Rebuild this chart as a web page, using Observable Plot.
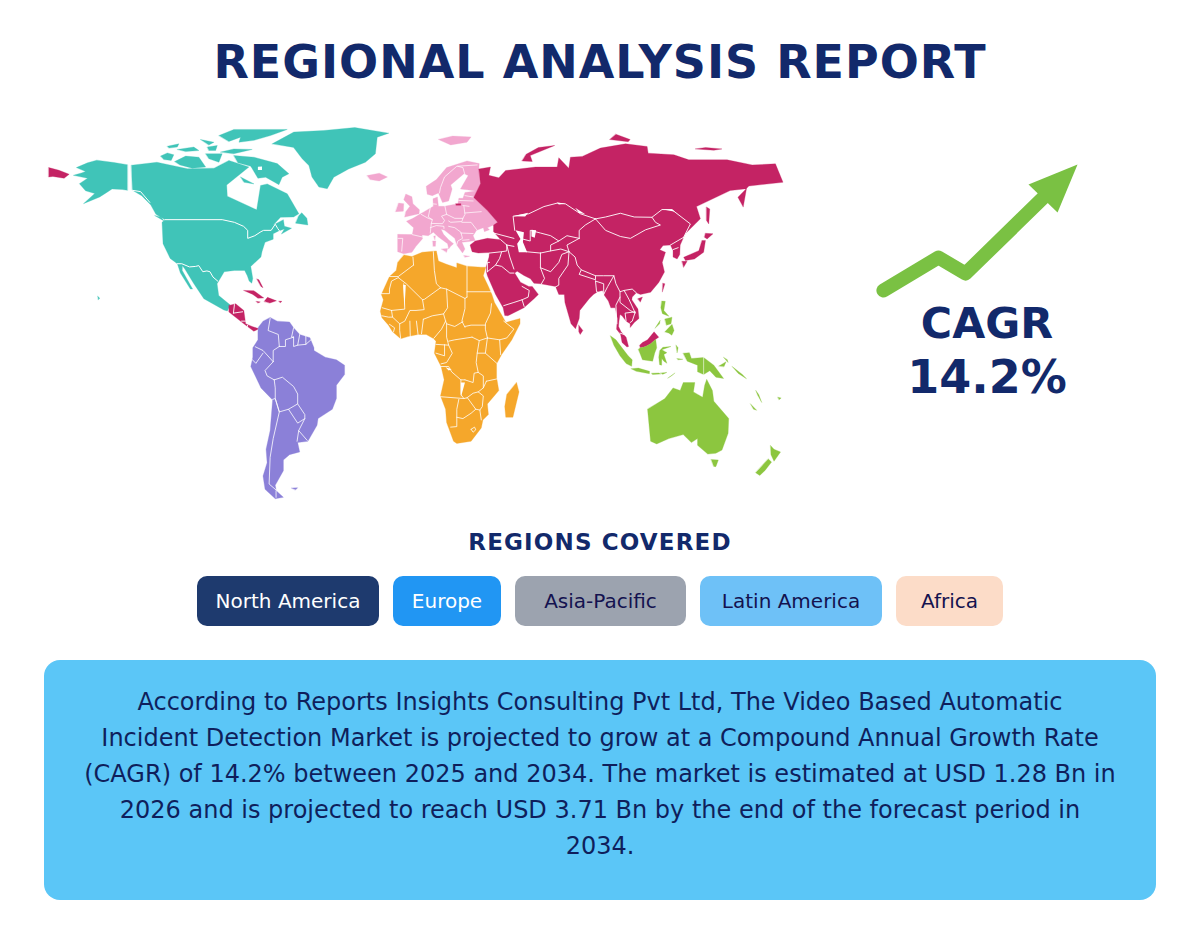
<!DOCTYPE html>
<html><head><meta charset="utf-8">
<script src="https://cdn.jsdelivr.net/npm/d3@7"></script>
<script src="https://cdn.jsdelivr.net/npm/@observablehq/plot@0.6"></script>
<style>
html,body{margin:0;padding:0;background:#fff;font-family:"DejaVu Sans",sans-serif;}
#page{position:relative;width:1200px;height:940px;overflow:hidden;}
#page>*{position:absolute;}
#title{left:0;width:1200px;top:33px;text-align:center;font-size:46px;font-weight:700;letter-spacing:1px;color:#12296b;line-height:58px;}
#cagr{left:870px;width:234px;top:296px;text-align:center;font-weight:700;color:#12296b;line-height:54px;}
#cagr .a{font-size:42.7px;display:block;}
#cagr .b{font-size:46px;display:block;}
#sub{left:0;width:1200px;top:527px;text-align:center;font-size:23px;font-weight:700;letter-spacing:1.15px;color:#12296b;line-height:30px;}
#chips{left:0;width:1200px;top:576px;display:flex;justify-content:center;gap:14px;}
.chip{height:50px;line-height:50px;border-radius:10px;text-align:center;font-size:20px;box-sizing:border-box;}
#box{left:44px;top:660px;width:1112px;height:240px;border-radius:16px;background:#5bc6f7;color:#0f1f5c;font-size:24px;line-height:36px;text-align:center;}
#box div{position:absolute;left:0;width:1112px;}
</style></head><body><div id="page">
<div id="title">REGIONAL ANALYSIS REPORT</div>
<div id="map" style="left:0;top:110px"></div>
<div id="arrow" style="left:870px;top:155px"></div>
<div id="cagr"><span class="a">CAGR</span><span class="b">14.2%</span></div>
<div id="sub">REGIONS COVERED</div>
<div id="chips"></div>
<div id="box"></div>
</div>
<script>
// ---- region names and colours ----
const mapRegions=["North America","Europe","Asia","Africa","South America","Oceania"];
const mapColors=["#40c4b8","#f2a7cf","#c42364","#f5a72b","#8b80d8","#8cc63f"];
// ---- land outlines: [longitude, latitude] ----
const alaska=[[-141.5,69.6],[-148,70.4],[-156.5,71.3],[-161,70.3],[-166.5,68.5],[-162,67],[-164,66.5],[-168,65.6],[-161,64.5],[-165,62.5],[-162,59.8],[-157.5,58.8],[-163,55],[-155,57.5],[-151,59.5],[-149,60.5],[-144,60.3],[-141.5,60]];
const northAmerica=[[-139.5,69.4],[-127,70.5],[-112,68.1],[-99,68.3],[-91.7,71.2],[-81.9,68.7],[-92.8,62],[-92.5,57.8],[-78.1,52.7],[-76.2,61.8],[-72.9,62.4],[-63.1,58.7],[-57.4,51.2],[-60,50],[-66.4,49.9],[-70,47],[-65,49],[-64.5,46.5],[-61,45.8],[-66,43.6],[-64.5,45.5],[-67.3,44.8],[-70,43.7],[-70,41.7],[-74,40.5],[-75.5,37],[-76,35],[-81,31.5],[-80,27],[-80.5,25.2],[-81.8,26],[-82.7,28],[-84,30],[-89,30],[-94,29.5],[-97.5,25],[-96.7,20.6],[-91,17],[-92.5,14.8],[-94.2,15.2],[-104,19.4],[-108.9,25],[-113.3,30.5],[-114.5,31.7],[-114.6,30],[-109.5,23],[-110.6,23],[-115.5,29],[-117,32.5],[-120.5,34.5],[-124,40],[-124.5,48],[-123,49],[-127.5,51],[-130,54.5],[-134.5,58],[-139,60]];
const greenland=[[-70.5,77.4],[-59.9,81.8],[-45.2,82.4],[-30,83.5],[-13.3,81.4],[-19,79.9],[-19.9,73.7],[-24.8,70.5],[-33,68],[-40.3,64.9],[-43.5,60.6],[-47.6,61.2],[-51,65],[-52.5,69.3],[-55.8,71.8],[-60,76]];
const baffin=[[-89.3,73],[-79.4,72.4],[-68,70],[-62.3,66.2],[-65.6,64.9],[-67.2,62.1],[-73.7,64.9],[-77.5,64.5],[-81,69],[-87.3,70.3]];
const banks=[[-125.2,72.8],[-121.9,74],[-118.7,73.3],[-120,71.2],[-123.6,71.5]];
const victoria=[[-118.3,70.8],[-112.9,72.8],[-106.4,72.4],[-103.1,68.7],[-109.7,68.3],[-115.7,69.5]];
const princePatrick=[[-121.9,76.5],[-116.2,77.4],[-117,76.2],[-121.1,75.8]];
const melville=[[-117,75.3],[-108.9,76.2],[-106.4,74.9],[-112.9,74.5]];
const somerset=[[-103.1,73.7],[-95,73.7],[-96.6,70.5],[-101.5,71.8]];
const bathurst=[[-102.3,76.2],[-97.4,76.8],[-98.2,74.9],[-101.5,74.9]];
const devon=[[-95.8,74.3],[-89.3,75.5],[-80.3,75.3],[-89.3,73.7]];
const axel=[[-105.6,79],[-99,78],[-101.5,77]];
const ellesmere=[[-96.6,80.5],[-89.3,82.8],[-63.1,82.8],[-71.3,80.5],[-79.4,78.7],[-86.8,78],[-86,79.9],[-91.7,78.3]];
const southampton=[[-86,65],[-79.4,62.4],[-84.3,63]];
const newfoundland=[[-59,47.7],[-53,47],[-53.5,49.5],[-56,51.6],[-57.5,50.5]];
const vancouver=[[-128,50.5],[-123.5,48.5],[-125,50]];
const hawaii=[[-156,20.3],[-155,19.6],[-155.7,19]];
const europe=[[30.8,68],[31,70],[25,71],[15,68.5],[10,64],[5,61.5],[5.5,58.5],[8,58],[11,59],[12.5,56.3],[13,55.4],[16,56],[17.7,60.5],[17,62],[23.5,66.2],[25.6,65.5],[21.8,60.5],[25,60.2],[29.2,59.7],[24,59.2],[23,57],[21,57],[20.5,54.8],[18.5,54.7],[14,54],[11,54],[10.5,57.5],[8.3,56.8],[8.5,54],[4,52],[1.6,50.9],[-1.5,49.5],[-4.7,48.4],[-1.2,46],[-1.8,43.4],[-9,43.5],[-9,37],[-6,36.2],[-2,36.8],[0,39],[3.2,41.9],[3,43.3],[6,43],[8.5,44.3],[11,42.5],[15.5,40],[16,38],[17,39],[18.4,40],[16,41.5],[13.5,43.5],[12.3,45.4],[14,45],[19,42],[20,39.5],[22.8,36.5],[24,38],[22.5,40.5],[26,40.8],[29,41.2],[28,43],[29.7,45],[33,46],[33.5,44.5],[36,45.2],[35,46],[38,47],[40,48],[35,52.4],[28.3,57.3],[31.6,62.5]];
const britain=[[-5.5,50],[1.5,51.2],[1.7,52.7],[-1.5,55],[-2,57.6],[-5,58.6],[-6,56.5],[-3,54],[-5,52]];
const ireland=[[-10,52],[-6.2,52.2],[-6,55],[-8.5,55.2]];
const iceland=[[-24,65.5],[-18,66.4],[-14,65],[-18,63.5],[-22.5,64]];
const svalbard=[[11,79],[17,77],[25,78],[27,80],[18,80.3]];
const sicily=[[12.5,38],[15.5,38.2],[15,36.8]];
const sardinia=[[8.2,41],[9.7,41],[9.5,39],[8.4,39]];
const corsica=[[8.7,42.8],[9.5,43],[9.3,41.5]];
const crete=[[23.5,35.6],[26.3,35.3],[24,34.9]];
const asia=[[30.8,68],[36.5,68.7],[35.7,65.6],[40.6,64.7],[43.9,67.4],[58.6,68.7],[69.2,68.7],[70,72.2],[74.9,68.3],[75.7,72.4],[81.5,72.7],[90.4,75.8],[102.7,77.4],[113.3,76.4],[113.8,73.9],[126.4,73.3],[133.7,71.4],[152.5,71.4],[164.8,69.5],[176.2,69.9],[179.9,63],[163.2,61.6],[157.8,57.4],[160.4,53.7],[162,60.6],[154,59.9],[137.5,53.9],[139.4,49.3],[132,43.7],[131.2,42.4],[129.5,39.5],[129.3,36],[128,34.3],[126,35],[126,37.5],[124.7,39.5],[121.1,39.3],[119.5,37.7],[122.3,36.8],[120.7,33],[121.8,29.4],[119,25.5],[115,21.8],[110,21],[108,21.6],[106,20],[105.8,19],[108.8,15.5],[109.3,12],[107,10.5],[105,8.6],[105,10],[103,11],[101,13],[100,13.5],[99.5,11],[99.3,9],[100.5,7],[103,5],[104.2,1.5],[103.4,1.3],[101,3],[100.3,6],[98.3,8],[98.7,12],[97.7,16],[95.5,16],[94.3,18.5],[92.3,20.7],[91.5,22.5],[89,22],[87,21],[85,19.5],[80.3,15],[80,12],[78.2,8.1],[76,10],[73,18],[72.7,21],[70,21],[68.4,24],[61,25],[57.8,25.2],[56.1,26.9],[52.9,28.1],[49.6,29.7],[48.4,29],[51.2,25.6],[55.3,24],[57,24],[60,21],[58,19.5],[52.9,16],[45,13],[43.5,13.1],[42.7,16],[39,21],[35,28],[34.5,29.5],[34.4,31.3],[35.8,35],[36,36.7],[30.5,36.5],[27.5,37],[26.5,39.5],[29,41],[35,42],[41.5,41.5],[38,44.5],[38,47],[40,48],[35,52.4],[28.3,57.3],[31.6,62.5]];
const caspian=[[48.8,45],[52.9,44.3],[52.4,40.6],[54.5,36.8],[50.4,36.8],[49.6,40],[51.2,41.8]];
const aral=[[56.6,45.2],[58.9,45],[58.2,42.2],[56.6,42.7]];
const chukotka=[[-180,68.5],[-175,67.5],[-170,66],[-172.5,64.5],[-178,65.2],[-180,65]];
const novayaZemlya=[[52,71],[57,70.8],[56,73],[68,76.8],[60,76],[54,73.5]];
const severnaya=[[95,79],[104,78.2],[105,79],[98,81]];
const newSiberian=[[137,75.5],[146,75],[150,75.5],[142,76]];
const sakhalin=[[142.4,53.7],[144,53],[143.5,47.4],[142.4,48.7]];
const honshu=[[140.2,41.2],[141.9,41.2],[141,36.8],[136.5,34.3],[132.1,33.7],[131.2,34.9],[138.6,37.4]];
const hokkaido=[[141.9,43.9],[145.6,43.7],[142.7,41.8],[141.4,42.4]];
const kyushu=[[130.4,33.4],[132.9,33.4],[131.2,31.2]];
const taiwan=[[121,25.2],[122,25],[120.8,22]];
const hainan=[[108.7,19.4],[111,20],[110,18.2]];
const sriLanka=[[79.8,9.5],[81.8,7.5],[80.5,6],[79.8,7]];
const cuba=[[-84.4,22.5],[-79.5,22.4],[-74.6,19.7],[-77.5,19.6],[-80,21]];
const hispaniola=[[-74.4,18.4],[-72.8,19.9],[-68.4,18.6],[-71.6,17.8]];
const jamaica=[[-78.3,18.4],[-76.3,18.2],[-77.5,17.8]];
const puertoRico=[[-67.2,18.5],[-65.7,18.4],[-66.5,17.9]];
const bahamas=[[-78,26.8],[-77,26.5],[-75,23.5],[-76,24]];
const kaliningrad=[[19.5,55],[22,55],[22,54.4],[19.7,54.4]];
const centralAmerica=[[-91.7,16.9],[-88.4,17.5],[-84.4,15],[-83.5,10],[-80.3,9],[-77,8.1],[-79.5,7.2],[-84.4,10],[-91.7,14.4]];
const malaysiaBorneo=[[109.6,2],[111,3],[113.5,4],[116.7,7],[119,5],[117.5,4.2],[115,2.5],[112.5,1.5],[110,1]];
const africa=[[-5.9,35.8],[-2,35.2],[3,36.8],[10,37.3],[11,33.5],[15,32.3],[20,31],[20,32.8],[25,31.6],[32,31.2],[34.2,31.2],[33,28],[35.5,24],[37.2,21],[38.5,18],[43,12],[44,10.5],[51,12],[51,10],[47,4],[42,-1.5],[39.5,-5],[39.5,-10],[40.6,-15],[35,-20],[35.5,-24],[32.8,-26],[32,-29],[27,-34],[20,-34.8],[18.4,-34],[15,-27],[14.5,-22],[12,-17],[13.8,-11],[12.3,-6],[9,-1],[9.8,3.5],[8.5,4.5],[5,6],[1,6],[-4,5.2],[-7.5,4.4],[-11.5,7],[-13.5,9.5],[-16.7,12.3],[-17.5,14.7],[-16,19],[-17,21],[-13,27.7],[-9.7,30],[-9,33]];
const madagascar=[[49.3,-12],[50.5,-15.5],[47.5,-25],[44,-25],[43.5,-21],[44.5,-16.5]];
const southAmerica=[[-77.3,8.7],[-75,11],[-71.5,12.4],[-68,11],[-62,10.7],[-60,8.5],[-57,6],[-52,4.8],[-50,1],[-50,0],[-44.5,-2.5],[-39,-3.5],[-35,-5.5],[-35,-9],[-39,-13],[-39,-18],[-41,-22],[-48,-25.5],[-48.5,-28],[-53,-34],[-58,-34.5],[-57,-38],[-62,-39],[-65,-41],[-65,-45],[-69,-50.5],[-68.5,-52.5],[-65,-55],[-69,-55.5],[-74,-52],[-75,-47],[-73,-42],[-73.5,-37],[-71.5,-30],[-70.3,-18.5],[-76,-14],[-81,-6],[-80,-2.5],[-80,1],[-77.5,4],[-77.5,7]];
const falkland=[[-61,-51.5],[-58,-51.4],[-59,-52.2]];
const australia=[[113.5,-22],[114,-26],[115,-34],[118,-35],[124,-33],[131,-31.5],[135,-34.5],[138,-33],[138,-35.5],[143,-38.8],[147,-38.5],[150,-37.3],[153,-31],[153.3,-25.5],[146,-19],[145.3,-15],[142.5,-10.8],[141.5,-13],[140.5,-17.5],[136,-15.5],[136.7,-12],[131,-12],[129.5,-15],[126,-14],[122,-18]];
const tasmania=[[144.7,-40.8],[148.2,-41],[147,-43.5],[146,-43.4]];
const nzNorth=[[173.8,-35.6],[175.5,-37],[178.7,-38],[175.5,-41.5],[174,-39]];
const nzSouth=[[172.7,-40.6],[174.3,-41.8],[171,-45],[168.5,-46.8],[166.5,-45.8]];
const newGuinea=[[131,-1],[134,-0.8],[135,-3],[141,-2.6],[146,-5.5],[150.8,-10.5],[147,-10],[144,-7.6],[141,-9],[138,-8],[138,-5.5],[133,-4]];
const newBritain=[[148.5,-5.8],[152,-4.2],[151,-6]];
const sumatra=[[95.3,5.5],[98,4],[104,-2],[106,-3.5],[105.7,-5.9],[103,-4.9],[100,-2],[97,2]];
const java=[[105.5,-6.8],[109,-6.6],[114.5,-7.8],[114.4,-8.7],[108,-7.8]];
const lesserSunda=[[115.5,-8.5],[119,-8.4],[120,-8.8],[116,-9]];
const timor=[[123.5,-10.3],[127,-8.4],[125,-9.6]];
const flores=[[120,-8.4],[123,-8.2],[121,-8.9]];
const kalimantan=[[109,0.5],[110,1],[112.5,1.5],[115,2.5],[117.5,4.2],[118,1],[117,-1],[116,-4],[111,-3.5],[110,-1.5]];
const sulawesi=[[119.5,0],[121,1.2],[125,1.5],[120.5,0.3],[123,-0.8],[121.5,-1.5],[123,-4.8],[121.5,-4],[120.5,-3],[120.4,-5.5],[119.4,-5.3],[119,-2.5]];
const halmahera=[[127.5,2],[128.5,1],[128,-0.8]];
const seram=[[128,-3],[130.8,-3.3],[128.5,-3.5]];
const luzon=[[120.5,18.5],[122.2,18.4],[121.5,15],[124,12.8],[120.8,13.8],[120,16]];
const mindanao=[[122,7],[125.5,9.8],[126.5,7.5],[125.4,5.7],[124,6.5]];
const visayas=[[122,11.8],[125.5,12.5],[125,10],[122.8,9.5]];
const palawan=[[117.2,8.4],[119.7,11.3],[119.4,10]];
const solomons=[[155,-6],[160,-9],[162,-10.6],[158,-8.6]];
const newIreland=[[150.8,-2.6],[153,-4.5],[152.6,-3.5]];
const vanuatu=[[166.6,-15],[168,-16.5],[169.5,-19.5],[167.5,-16.8]];
const newCaledonia=[[164,-20],[167,-22.4],[165.5,-22]];
const fiji=[[177.4,-17.5],[179,-17.8],[178,-18.4]];
// ---- white slivers between countries and inland waters ----
const gapKazakhWest=[[47.6,50.3],[55,51.6],[53.5,50.2]];
const gapKazakhNorth=[[69,55.4],[73.5,55],[70,54.7]];
const gapAltai=[[78,53.5],[83,51],[80,51.5]];
const gapAmur=[[120.6,52.9],[125.5,52.9],[131,49.5],[127,52]];
const gapMauritania=[[-6.3,24.5],[-5,24.5],[-5.6,16]];
const gapAngola=[[14.5,-6.3],[17.5,-7],[16,-7.5]];
const gapZambia=[[22,-12],[24,-12],[22,-17.5]];
const gapFoxe=[[-77.5,68.8],[-75.5,68.9],[-75.5,67.6],[-77.5,67.6]];
// ---- white boundaries ----
const northAmericaBorders=[[[-123,49],[-95,49],[-89,48],[-84.5,46.5],[-82.5,45],[-82.5,42],[-79,43],[-76,44.5],[-74.7,45],[-71,45],[-69,47.3],[-67.8,45.7],[-67,44.9]],[[-117,32.5],[-114.8,32.5],[-111,31.3],[-108,31.5],[-106.5,31.8],[-104.5,29.5],[-102.5,29.8],[-101,29.5],[-99.5,27.5],[-97.2,26]],[[-139,60],[-135,59.5],[-130.5,55.5]]];
const europeBorders=[[[30,69.5],[20,69],[14,65],[12,61],[11.5,59]],[[24,65.8],[23,68.5],[20.5,69]],[[24,58],[28,57.5]],[[21,56.2],[28,56]],[[23,54.3],[26,54]],[[14.2,54],[15,51],[19,49.5],[23,49.5],[24,51],[23.5,54]],[[24,51.5],[32,52]],[[7,53.5],[6,50],[8,49],[7.5,47.6],[13,47.5],[14,48.7],[12.5,50.3],[15,51]],[[8.5,54.9],[10,54.8]],[[2.5,51],[6,49.5],[8,49]],[[7.5,47.6],[7,44]],[[-1.8,43.4],[3.2,42.5]],[[-8.8,42],[-6.5,42],[-7,37.2]],[[7,46],[10,46.8],[13.7,46.5],[13.7,45.7]],[[16,48.5],[17,48],[22.5,48.3],[23,49.5]],[[16,46.5],[19,46],[22,44.3],[22.8,42],[20.5,41],[20,39.7]],[[22.8,41.3],[26,41.5]],[[22.5,48],[27,48],[29.7,45.3]],[[22,44],[28,43.8]]];
const asiaBorders=[[[48.4,45],[47.6,50.3],[55.3,51.2],[62.7,53.9],[69.2,55.2],[73.3,54.9],[80.6,51.2],[88,49.3]],[[88,49.3],[92.9,50],[100.2,51.4],[107,50],[115.7,49.9],[117.4,48],[119.8,47],[112.5,45.2],[105.1,42],[100.2,42.7],[92.9,45],[88,49.3]],[[115.7,49.9],[120.6,52.8],[125.5,52.7],[134.5,47.4],[131.2,42.4]],[[88,49.3],[83,47],[80,45],[80,42]],[[80,42],[74,43],[70,41],[66,43],[61,44],[56,45],[56,41],[52.5,41.7]],[[80,42],[74,39.5],[75,37],[78,35],[79,32],[81,30.2],[88,28],[92,28],[97,28],[98,25],[100,22],[102,22.5],[106,23],[108,21.6]],[[61,36.5],[66,37.3],[71,38],[75,37]],[[61,36.5],[61,31],[66,29.5],[70,33],[71.5,36],[75,37]],[[66,37.3],[66,39.5],[70,41]],[[75,37],[74.5,32],[70,27],[70,24.5],[68.2,23.7]],[[61,31],[63,27],[61.5,25]],[[44.5,39.5],[46,35],[48,30.5]],[[44.5,39.5],[48,39]],[[54,37],[61,36.5]],[[36,36.5],[42,37],[44.5,37.3],[44.5,39.5]],[[41.5,41.5],[44.5,39.5]],[[38,44],[48,42]],[[35,29.5],[39,32],[42,31.5],[46,29],[48,29]],[[43,16.8],[48,18],[52,19],[55,20],[55.5,22.5],[52,24]],[[52,19],[53,16.5]],[[42,37],[41,34.5],[39,32]],[[36,33],[35,33],[35,29.5]],[[81,30.2],[80,28.5],[88,26.5],[88,28]],[[88,26],[88.5,22],[92,21],[92,25],[88,26]],[[92,21],[94,24],[97,28]],[[100,20],[98,17],[98.5,10]],[[100,22],[100,18],[105,15],[107.5,14],[104.5,19],[102,22.5]],[[103,11],[102.5,14],[107.5,14.5],[106,11],[105,10.5]],[[100,6.5],[102,6]],[[124.7,39.5],[131.2,42.4]],[[126,37.8],[128.5,38.5]],[[-89.5,14],[-89,17.2]],[[-89.5,14],[-85,14.5]],[[-85.5,11],[-83.6,11]],[[-83,8.5],[-82.5,9.5]]];
const africaBorders=[[[-1.2,32],[-1.5,35]],[[-13,27.7],[-8.7,27.7],[-1.2,32]],[[-8.7,27.3],[-4.8,25],[3.2,19],[4.2,19.2],[12,23.5]],[[8.5,37],[9,30],[10,25],[12,23.5]],[[25,31.6],[25,20]],[[12,23.5],[15,23],[24,19.5],[25,20]],[[25,22],[36.8,22]],[[-17,21.3],[-13,21.3],[-13,23],[-12,26],[-8.7,27.3]],[[-6,25],[-5.5,15.5],[-12,15]],[[-16.5,16],[-12,15]],[[3.2,19],[4,15.3],[0,15],[-3,15],[-5.5,11],[-8,10],[-11.5,12.5],[-12,15]],[[3.6,11.7],[8,13],[13.5,13.7],[15.5,16],[15,23]],[[24,19.5],[24,15.7],[22.5,11],[24,8.7]],[[15,10],[19,9],[23,10.8]],[[13.5,13.7],[14.5,11],[15,10],[15,5],[16,2],[9.8,2.3]],[[14.5,11],[12.5,8],[8.8,4.6]],[[3.6,11.7],[2.7,6.3]],[[0.2,11],[1,6]],[[-3,11],[-2.8,5]],[[-8,10],[-8,7.5],[-7.5,4.4]],[[-16.7,13],[-13.5,12.5],[-11.5,12.5]],[[-13,9.8],[-10.5,8.5],[-11,7]],[[37,17.5],[36.5,14],[34,10],[34,8],[35,4.7]],[[24,9],[27,9.5],[34,9.5]],[[27.5,5],[31,3.7],[35,4.7]],[[16,3.5],[19,4],[27.5,5]],[[43,11],[48,8],[44.5,4.7],[41,4],[41.5,-1.6]],[[35,4.7],[41,4]],[[34,-1],[39.5,-4.7]],[[31,3.7],[30,-1],[34,-1],[35,4.7]],[[30,-1],[29.5,-4.5],[30.5,-8.2]],[[34.5,-11.5],[40.5,-10.5]],[[16,2],[17.8,-1],[15,-4.5],[12.3,-5]],[[9.8,-1],[14,-2],[14,2.2]],[[12.3,-6],[16,-6],[17.5,-8],[22,-11],[24,-11]],[[22,-11],[22,-16.5],[23.5,-18]],[[12,-17.3],[23.5,-18],[25,-17.7]],[[21,-18.3],[20,-22],[20,-28.5],[17,-28.7]],[[24,-11],[28,-12],[28.5,-8.5],[30.5,-8.2],[33,-9.5],[33,-14],[30.5,-15.5],[28,-16],[25,-17.7]],[[34.5,-11.5],[33,-14]],[[20,-25],[23,-25.5],[27,-23.5],[29.3,-22],[25.3,-17.8]],[[30.5,-15.5],[33,-17],[32.5,-21],[31.3,-22.3],[32,-26]],[[29.3,-22],[31.3,-22.3]],[[27,-29.5],[28.7,-28.7],[29.3,-29.7],[28,-30.6],[27,-29.5]]];
const southAmericaBorders=[[[-71.5,12],[-72.5,7.5],[-67.5,6],[-67,1.5]],[[-67,1.5],[-70,0],[-70,-4.2]],[[-78.8,1.4],[-75,0],[-70,-4.2]],[[-80.3,-3.4],[-78.5,-4.8],[-75,-1]],[[-60,8.5],[-61,5],[-60,5]],[[-67,1.5],[-64,1.5],[-64,4],[-60,5]],[[-57,6],[-58,2]],[[-54,5.5],[-54,2.3]],[[-60,5],[-60,1.5],[-58,2],[-54,2.3],[-51.5,4]],[[-70,-4.2],[-74,-7.5],[-73,-9.5],[-69.5,-11]],[[-69.5,-11],[-65.5,-10],[-60,-13.5],[-58,-16.3],[-58,-20],[-62.5,-22],[-67,-23],[-69,-18],[-69,-14],[-69.5,-11]],[[-70.3,-18.3],[-69,-18],[-67,-23],[-70,-33],[-71.5,-40],[-72,-50],[-68.5,-52.3]],[[-58,-20],[-54.5,-24],[-54.5,-25.5],[-58,-27.2],[-62.5,-22]],[[-54.5,-25.5],[-57.5,-30],[-58.3,-34]],[[-57.5,-30],[-53.3,-33.7]],[[-68.6,-52.5],[-68.6,-55]]];
const oceaniaBorders=[[[141,-2.6],[141,-9]]];
// ---- arrow: growth path and its head, in chart units ----
const growthT=[6,31.6,44.2,81.4];
const growthV=[10,32,21.3,73.3];
const headT=[96.3,73.5,87];
const headV=[94,80.7,62];
// ---- chips and paragraph ----
const chipLabels=["North America","Europe","Asia-Pacific","Latin America","Africa"];
const chipWidths=[182,108,171,182,107];
const chipFills=["#1e3a6e","#2196f3","#9ca3af","#6ec1f7","#fcdcc8"];
const chipText=["#ffffff","#ffffff","#14124f","#14124f","#14124f"];
const paragraph=["According to Reports Insights Consulting Pvt Ltd, The Video Based Automatic","Incident Detection Market is projected to grow at a Compound Annual Growth Rate","(CAGR) of 14.2% between 2025 and 2034. The market is estimated at USD 1.28 Bn in","2026 and is projected to reach USD 3.71 Bn by the end of the forecast period in","2034."];

const land=(region,...rings)=>({type:"Feature",properties:{region},geometry:{type:"MultiPolygon",coordinates:rings.map(r=>[[...r,r[0]]])}});
const features=[
  land("North America",alaska,northAmerica,greenland,baffin,banks,victoria,princePatrick,melville,somerset,bathurst,devon,axel,ellesmere,southampton,newfoundland,vancouver,hawaii),
  land("Europe",europe,britain,ireland,iceland,svalbard,sicily,sardinia,corsica,crete),
  land("Asia",asia,chukotka,novayaZemlya,severnaya,newSiberian,sakhalin,honshu,hokkaido,kyushu,taiwan,hainan,sriLanka,cuba,hispaniola,jamaica,puertoRico,bahamas,kaliningrad,centralAmerica,malaysiaBorneo),
  land("Africa",africa,madagascar),
  land("South America",southAmerica,falkland),
  land("Oceania",australia,tasmania,nzNorth,nzSouth,newGuinea,newBritain,sumatra,java,lesserSunda,timor,flores,kalimantan,sulawesi,halmahera,seram,luzon,mindanao,visayas,palawan,solomons,newIreland,vanuatu,newCaledonia,fiji)
];
const waterRings=[caspian,aral,gapKazakhWest,gapKazakhNorth,gapAltai,gapAmur,gapMauritania,gapAngola,gapZambia,gapFoxe];
const lakes={type:"MultiPolygon",coordinates:waterRings.map(r=>[[...r,r[0]]])};
const lines=(arr)=>({type:"MultiLineString",coordinates:arr});

// stretched plate carree fitted to the reference frame
const mapProjection=d3.geoTransform({point(lon,lat){this.stream.point(415.5+2.04*lon,240-2.67*lat);}});
document.getElementById("map").append(Plot.plot({
  width:1200,height:400,margin:0,
  projection:mapProjection,
  color:{domain:mapRegions,range:mapColors},
  marks:[
    Plot.geo(features,{fill:d=>d.properties.region,stroke:d=>d.properties.region,strokeWidth:.3,strokeLinejoin:"round"}),
    Plot.geo(lakes,{fill:"white"}),
    Plot.geo(lines(northAmericaBorders),{stroke:"white",strokeWidth:1,fill:"none"}),
    Plot.geo(lines(europeBorders),{stroke:"white",strokeWidth:.7,fill:"none"}),
    Plot.geo(lines(asiaBorders),{stroke:"white",strokeWidth:.9,fill:"none"}),
    Plot.geo(lines(africaBorders),{stroke:"white",strokeWidth:.8,fill:"none"}),
    Plot.geo(lines(southAmericaBorders),{stroke:"white",strokeWidth:.8,fill:"none"}),
    Plot.geo(lines(oceaniaBorders),{stroke:"white",strokeWidth:.6,fill:"none"})
  ]
}));
document.getElementById("arrow").append(Plot.plot({
  width:215,height:150,margin:0,
  x:{domain:[0,100],axis:null},y:{domain:[0,100],axis:null},
  marks:[
    Plot.line(growthT.map((t,i)=>({t,v:growthV[i]})),{x:"t",y:"v",stroke:"#7ac143",strokeWidth:14,strokeLinecap:"round",strokeLinejoin:"round"}),
    Plot.line(headT.map((t,i)=>({t,v:headV[i]})),{x:"t",y:"v",fill:"#7ac143",stroke:"none"})
  ]
}));
const chips=document.getElementById("chips");
chipLabels.forEach((l,i)=>{const c=document.createElement("div");c.className="chip";c.textContent=l;c.style.width=chipWidths[i]+"px";c.style.background=chipFills[i];c.style.color=chipText[i];chips.append(c);});
const box=document.getElementById("box");
paragraph.forEach((l,i)=>{const d=document.createElement("div");d.textContent=l;d.style.top=(24+36*i)+"px";box.append(d);});
</script>
</body></html>
